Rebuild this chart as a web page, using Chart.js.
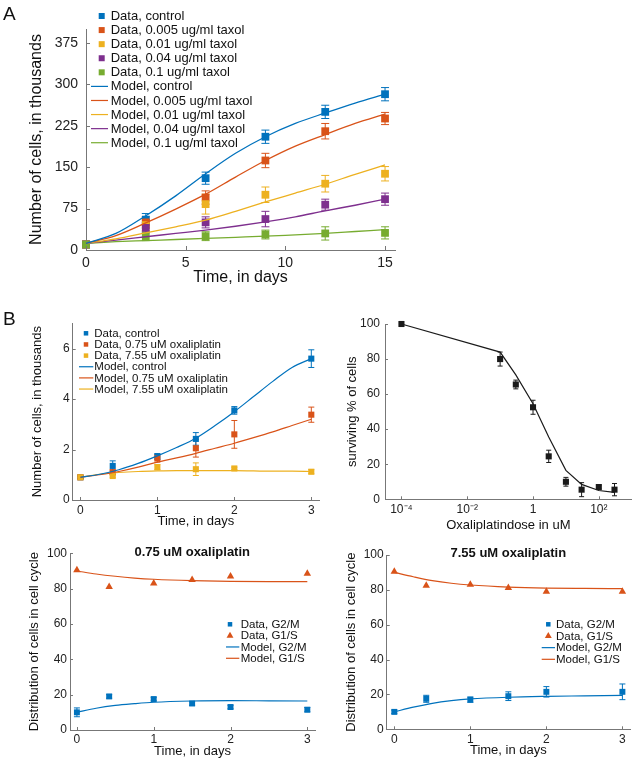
<!DOCTYPE html>
<html><head><meta charset="utf-8">
<script src="https://cdn.jsdelivr.net/npm/chart.js@4.4.1/dist/chart.umd.min.js"></script>
<style>
html,body{margin:0;padding:0;background:#fff;}
#wrap{position:relative;width:638px;height:763px;overflow:hidden;background:#fff;}
#wrap canvas{position:absolute;left:0;top:0;}
.lab{position:absolute;font-family:'Liberation Sans',Arial,Helvetica,sans-serif;font-size:19px;line-height:20px;color:#111;}
</style></head>
<body><div id="wrap">
<canvas id="cA" width="638" height="763"></canvas>
<canvas id="cB1" width="638" height="763"></canvas>
<canvas id="cB2" width="638" height="763"></canvas>
<canvas id="cB3" width="638" height="763"></canvas>
<canvas id="cB4" width="638" height="763"></canvas>
<div class="lab" style="left:3px;top:4px">A</div>
<div class="lab" style="left:3px;top:309px">B</div>
</div>
<script>
// ===== Panel A: taxol =====
const daysA = [0, 3, 6, 9, 12, 15];
const dataCtrlA = [10, 55, 130, 205, 250, 282];
const errCtrlA  = [3, 11, 11, 12, 12, 12];
const data005A  = [10, 50, 95, 162, 215, 238];
const err005A   = [3, 10, 12, 13, 14, 11];
const data001A  = [10, 45, 83, 100, 120, 138];
const err001A   = [3, 10, 18, 14, 15, 13];
const data004A  = [10, 40, 50, 56, 82, 92];
const err004A   = [3, 9, 10, 14, 10, 11];
const data01A   = [10, 25, 25, 28, 30, 31];
const err01A    = [3, 8, 8, 8, 12, 11];
const modelDaysA = [0, 1.5, 3, 4.5, 6, 7.5, 9, 10.5, 12, 13.5, 15];
const modelCtrlA = [12, 30, 62, 98, 138, 175, 205, 229, 248, 266, 282];
const model005A  = [12, 26, 49, 74, 101, 132, 162, 188, 209, 229, 246];
const model001A  = [12, 20, 31, 42, 54, 70, 87, 103, 119, 137, 154];
const model004A  = [12, 18, 24, 30, 36, 43, 51, 60, 71, 81, 92];
const model01A   = [12, 15, 17, 19, 21, 23, 25, 27.5, 30, 33.5, 37];
const xTicksA = [0, 5, 10, 15];
const yTicksA = [0, 75, 150, 225, 300, 375];

// ===== Panel B1: oxaliplatin growth =====
const daysB = [0, 0.42, 1, 1.5, 2, 3];
const dataCtrlB1 = [0.9, 1.35, 1.72, 2.42, 3.55, 5.6];
const errCtrlB1  = [0.05, 0.2, 0.12, 0.25, 0.15, 0.35];
const data075B1  = [0.9, 1.1, 1.65, 2.05, 2.6, 3.38];
const err075B1   = [0.05, 0.1, 0.15, 0.35, 0.55, 0.3];
const data755B1  = [0.9, 0.95, 1.3, 1.22, 1.25, 1.12];
const err755B1   = [0.05, 0.05, 0.1, 0.25, 0.05, 0.08];
const modelDaysB1 = [0, 0.25, 0.5, 0.75, 1, 1.25, 1.5, 1.75, 2, 2.25, 2.5, 2.75, 3];
const modelCtrlB1 = [0.9, 1.02, 1.2, 1.45, 1.75, 2.08, 2.45, 2.95, 3.5, 4.1, 4.7, 5.25, 5.6];
const model075B1  = [0.9, 1.0, 1.13, 1.3, 1.5, 1.67, 1.85, 2.05, 2.25, 2.47, 2.7, 2.95, 3.2];
const model755B1  = [0.9, 1.02, 1.09, 1.13, 1.15, 1.16, 1.16, 1.16, 1.16, 1.15, 1.14, 1.14, 1.13];
const xTicksB = [0, 1, 2, 3];
const yTicksB1 = [0, 2, 4, 6];

// ===== Panel B2: dose response =====
const doseB2 = [1e-4, 0.1, 0.3, 1, 3, 10, 30, 100, 300];
const survB2 = [100, 80, 65.5, 52.5, 24.5, 10, 5.5, 7, 5.5];
const survErrB2 = [0.5, 4, 2.5, 4, 3.5, 2.5, 4, 1, 3.5];
const modelDoseB2 = [1e-4, 0.1, 0.3, 1, 3, 10, 30, 100, 300];
const modelSurvB2 = [100, 84, 71, 54.5, 35.5, 16.5, 8.5, 5, 4];
const xTicksB2 = [1e-4, 1e-2, 1, 100];
const xTickLabelsB2 = ['10\u207B\u2074', '10\u207B\u00B2', '1', '10\u00B2'];
const yTicksPct = [0, 20, 40, 60, 80, 100];

// ===== Panel B3: 0.75 uM cell cycle =====
const g2mB3 = [10, 19, 17.5, 15, 13, 11.5];
const g2mErrB3 = [2.5, 1, 1, 1, 1, 1.2];
const g1sB3 = [90.5, 81, 83, 85, 87, 88.5];
const modelDaysCC = [0, 0.25, 0.5, 0.75, 1, 1.5, 2, 2.5, 3];
const modelG2mB3 = [10, 12.3, 13.9, 14.9, 15.7, 16.4, 16.6, 16.5, 16.4];
const modelG1sB3 = [90, 88.3, 87, 86, 85.3, 84.5, 84.1, 84, 84];

// ===== Panel B4: 7.55 uM cell cycle =====
const g2mB4 = [10, 17.5, 17, 19, 21.5, 21.5];
const g2mErrB4 = [1, 2, 1.5, 2.5, 3, 4.5];
const g1sB4 = [90.5, 82.5, 83, 81.2, 79, 79];
const modelG2mB4 = [10, 12.7, 14.9, 16.4, 17.4, 18.4, 18.9, 19.2, 19.5];
const modelG1sB4 = [90, 87.5, 85.3, 83.8, 82.8, 81.6, 81, 80.8, 80.7];

// ===== styling =====
const FONT = "'Liberation Sans', Arial, Helvetica, sans-serif";
Chart.defaults.font.family = FONT;
Chart.defaults.color = '#222';
const AX = '#777';
const C_BLUE = '#0072BD', C_ORANGE = '#D95319', C_YELLOW = '#EDB120', C_PURPLE = '#7E2F8E', C_GREEN = '#77AC30', C_BLACK = '#1a1a1a';

function pts(xs, ys) { return xs.map((x, i) => ({ x: x, y: ys[i] })); }

function modelDS(label, xs, ys, color, w, smooth) {
  return { label, data: pts(xs, ys), borderColor: color, backgroundColor: color, borderWidth: w,
    pointRadius: 0, fill: false, showLine: true, cubicInterpolationMode: smooth ? 'monotone' : 'default',
    tension: 0, order: 0, clip: false };
}
function dataDS(label, xs, ys, errs, color, style, r, cap) {
  return { label, data: pts(xs, ys), errors: errs, cap: cap, borderColor: color, backgroundColor: color,
    pointStyle: style, pointRadius: r, pointBorderWidth: 0, showLine: false, order: 1, clip: false };
}

function errPlugin() {
  return { id: 'errbars', beforeDatasetsDraw(chart) {
    const c = chart.ctx, xs = chart.scales.x, ys = chart.scales.y;
    c.save();
    chart.data.datasets.forEach(ds => {
      if (!ds.errors) return;
      c.strokeStyle = ds.borderColor; c.lineWidth = 1;
      ds.data.forEach((p, i) => {
        const e = ds.errors[i]; if (!e) return;
        const px = xs.getPixelForValue(p.x);
        const y1 = ys.getPixelForValue(p.y - e), y2 = ys.getPixelForValue(p.y + e);
        c.beginPath();
        c.moveTo(px, y1); c.lineTo(px, y2);
        c.moveTo(px - ds.cap, y1); c.lineTo(px + ds.cap, y1);
        c.moveTo(px - ds.cap, y2); c.lineTo(px + ds.cap, y2);
        c.stroke();
      });
    });
    c.restore();
  } };
}

function tickPlugin(len) {
  return { id: 'inticks', afterDraw(chart) {
    const c = chart.ctx, xs = chart.scales.x, ys = chart.scales.y, a = chart.chartArea;
    c.save(); c.strokeStyle = AX; c.lineWidth = 1; c.beginPath();
    xs.ticks.forEach(t => { const p = Math.round(xs.getPixelForValue(t.value)) + 0.5; c.moveTo(p, a.bottom); c.lineTo(p, a.bottom - len); });
    ys.ticks.forEach(t => { const p = Math.round(ys.getPixelForValue(t.value)) + 0.5; c.moveTo(a.left, p); c.lineTo(a.left + len, p); });
    c.stroke(); c.restore();
  } };
}

function legendPlugin(L) {
  return { id: 'plegend', afterDraw(chart) {
    const c = chart.ctx;
    c.save();
    c.font = L.size + 'px ' + FONT; c.textBaseline = 'middle'; c.textAlign = 'left';
    L.items.forEach((it, i) => {
      const y = L.y0 + i * L.dy;
      c.fillStyle = it.color; c.strokeStyle = it.color;
      if (it.kind === 'rect') {
        c.fillRect(L.mx - L.ms / 2, y - L.ms / 2, L.ms, L.ms);
      } else if (it.kind === 'tri') {
        const r = L.ts;
        c.beginPath();
        c.moveTo(L.mx, y - r); c.lineTo(L.mx + r * 0.866, y + r * 0.5); c.lineTo(L.mx - r * 0.866, y + r * 0.5);
        c.closePath(); c.fill();
      } else {
        c.lineWidth = 1.2; c.beginPath(); c.moveTo(L.lx1, y); c.lineTo(L.lx2, y); c.stroke();
      }
      c.fillStyle = '#111';
      c.fillText(it.text, L.tx, y + 0.5);
    });
    c.restore();
  } };
}

function titlePlugin(T) {
  return { id: 'ptitle', afterDraw(chart) {
    const c = chart.ctx; c.save();
    c.font = 'bold ' + T.size + 'px ' + FONT; c.fillStyle = '#111';
    c.textAlign = 'center'; c.textBaseline = 'middle';
    c.fillText(T.text, T.x, T.y); c.restore();
  } };
}

function makeChart(id, P, datasets, plugins) {
  const W = P.yTitleSize * 1.2 / 2 + (P.left - P.yTitleX);
  const H = P.xTitleSize * 1.2 / 2 + (P.xTitleY - P.bottom);
  return new Chart(document.getElementById(id), {
    type: 'line',
    data: { datasets },
    options: {
      responsive: false, animation: false, devicePixelRatio: 1, events: [],
      layout: { padding: { left: P.left - W, right: 638 - P.right, top: P.top, bottom: 763 - P.bottom - H } },
      plugins: { legend: { display: false }, tooltip: { enabled: false }, title: { display: false } },
      scales: {
        x: {
          type: P.xType || 'linear', min: P.xmin, max: P.xmax,
          afterFit(s) { s.height = H; },
          afterBuildTicks(s) { s.ticks = P.xTicks.map(v => ({ value: v })); },
          ticks: { font: { size: P.tickSize }, padding: P.xPad, color: '#222', maxRotation: 0, autoSkip: false,
            callback: P.xLabels ? ((v, i) => P.xLabels[i]) : (v => String(v)) },
          grid: { display: true, drawOnChartArea: false, drawTicks: false, color: 'rgba(0,0,0,0)' },
          border: { display: true, color: AX, width: 1 },
          title: { display: true, text: P.xTitle, font: { size: P.xTitleSize }, padding: 0, color: '#111' }
        },
        y: {
          type: 'linear', min: P.ymin, max: P.ymax,
          afterFit(s) { s.width = W; },
          afterBuildTicks(s) { s.ticks = P.yTicks.map(v => ({ value: v })); },
          ticks: { font: { size: P.tickSize }, padding: P.yPad, color: '#222', autoSkip: false, callback: v => String(v) },
          grid: { display: true, drawOnChartArea: false, drawTicks: false, color: 'rgba(0,0,0,0)' },
          border: { display: true, color: AX, width: 1 },
          title: { display: true, text: P.yTitle, font: { size: P.yTitleSize }, padding: 0, color: '#111' }
        }
      }
    },
    plugins: [errPlugin(), tickPlugin(P.tickLen)].concat(plugins || [])
  });
}

// ---------- Panel A ----------
makeChart('cA', {
  left: 86, right: 395, top: 29, bottom: 250, xmin: 0, xmax: 15.5, ymin: 0, ymax: 400,
  xTicks: xTicksA, yTicks: yTicksA, tickSize: 14, xPad: 5, yPad: 8, tickLen: 4,
  xTitle: 'Time, in days', xTitleSize: 16, xTitleY: 278,
  yTitle: 'Number of cells, in thousands', yTitleSize: 16, yTitleX: 37
}, [
  modelDS('Model, control', modelDaysA, modelCtrlA, C_BLUE, 1.3, true),
  modelDS('Model, 0.005 ug/ml taxol', modelDaysA, model005A, C_ORANGE, 1.3, true),
  modelDS('Model, 0.01 ug/ml taxol', modelDaysA, model001A, C_YELLOW, 1.3, true),
  modelDS('Model, 0.04 ug/ml taxol', modelDaysA, model004A, C_PURPLE, 1.3, true),
  modelDS('Model, 0.1 ug/ml taxol', modelDaysA, model01A, C_GREEN, 1.3, true),
  dataDS('Data, 0.1 ug/ml taxol', daysA, data01A, err01A, C_GREEN, 'rect', 5.5, 4),
  dataDS('Data, 0.04 ug/ml taxol', daysA, data004A, err004A, C_PURPLE, 'rect', 5.5, 4),
  dataDS('Data, 0.01 ug/ml taxol', daysA, data001A, err001A, C_YELLOW, 'rect', 5.5, 4),
  dataDS('Data, 0.005 ug/ml taxol', daysA, data005A, err005A, C_ORANGE, 'rect', 5.5, 4),
  dataDS('Data, control', daysA, dataCtrlA, errCtrlA, C_BLUE, 'rect', 5.5, 4)
], [legendPlugin({
  size: 13, mx: 101.7, ms: 6, lx1: 91, lx2: 108, tx: 110.7, y0: 16, dy: 14.08,
  items: [
    { kind: 'rect', color: C_BLUE, text: 'Data, control' },
    { kind: 'rect', color: C_ORANGE, text: 'Data, 0.005 ug/ml taxol' },
    { kind: 'rect', color: C_YELLOW, text: 'Data, 0.01 ug/ml taxol' },
    { kind: 'rect', color: C_PURPLE, text: 'Data, 0.04 ug/ml taxol' },
    { kind: 'rect', color: C_GREEN, text: 'Data, 0.1 ug/ml taxol' },
    { kind: 'line', color: C_BLUE, text: 'Model, control' },
    { kind: 'line', color: C_ORANGE, text: 'Model, 0.005 ug/ml taxol' },
    { kind: 'line', color: C_YELLOW, text: 'Model, 0.01 ug/ml taxol' },
    { kind: 'line', color: C_PURPLE, text: 'Model, 0.04 ug/ml taxol' },
    { kind: 'line', color: C_GREEN, text: 'Model, 0.1 ug/ml taxol' }
  ]
})]);

// ---------- Panel B1 ----------
makeChart('cB1', {
  left: 72.7, right: 319, top: 323.3, bottom: 500, xmin: -0.1, xmax: 3.1, ymin: 0, ymax: 7,
  xTicks: xTicksB, yTicks: yTicksB1, tickSize: 12, xPad: 3, yPad: 3, tickLen: 3,
  xTitle: 'Time, in days', xTitleSize: 13, xTitleY: 521.7,
  yTitle: 'Number of cells, in thousands', yTitleSize: 13, yTitleX: 37.7
}, [
  modelDS('Model, control', modelDaysB1, modelCtrlB1, C_BLUE, 1.2, true),
  modelDS('Model, 0.75 uM oxaliplatin', modelDaysB1, model075B1, C_ORANGE, 1.2, true),
  modelDS('Model, 7.55 uM oxaliplatin', modelDaysB1, model755B1, C_YELLOW, 1.2, true),
  dataDS('Data, 7.55 uM oxaliplatin', daysB, data755B1, err755B1, C_YELLOW, 'rect', 4.3, 3),
  dataDS('Data, 0.75 uM oxaliplatin', daysB, data075B1, err075B1, C_ORANGE, 'rect', 4.3, 3),
  dataDS('Data, control', daysB, dataCtrlB1, errCtrlB1, C_BLUE, 'rect', 4.3, 3)
], [legendPlugin({
  size: 11.5, mx: 86, ms: 4.5, lx1: 79, lx2: 93.3, tx: 94.3, y0: 333.3, dy: 11.15,
  items: [
    { kind: 'rect', color: C_BLUE, text: 'Data, control' },
    { kind: 'rect', color: C_ORANGE, text: 'Data, 0.75 uM oxaliplatin' },
    { kind: 'rect', color: C_YELLOW, text: 'Data, 7.55 uM oxaliplatin' },
    { kind: 'line', color: C_BLUE, text: 'Model, control' },
    { kind: 'line', color: C_ORANGE, text: 'Model, 0.75 uM oxaliplatin' },
    { kind: 'line', color: C_YELLOW, text: 'Model, 7.55 uM oxaliplatin' }
  ]
})]);

// ---------- Panel B2 ----------
makeChart('cB2', {
  left: 385, right: 631.7, top: 324, bottom: 499.3, xType: 'logarithmic',
  xmin: Math.pow(10, -4.5), xmax: 1000, ymin: 0, ymax: 100,
  xTicks: xTicksB2, xLabels: xTickLabelsB2, yTicks: yTicksPct, tickSize: 12, xPad: 3, yPad: 5, tickLen: 3,
  xTitle: 'Oxaliplatindose in uM', xTitleSize: 13, xTitleY: 525,
  yTitle: 'surviving % of cells', yTitleSize: 13, yTitleX: 352.5
}, [
  modelDS('Model', modelDoseB2, modelSurvB2, C_BLACK, 1.2, false),
  dataDS('Data', doseB2, survB2, survErrB2, C_BLACK, 'rect', 4.3, 2.5)
]);

// ---------- Panel B3 ----------
const ccLegendItems = [
  { kind: 'rect', color: C_BLUE, text: 'Data, G2/M' },
  { kind: 'tri', color: C_ORANGE, text: 'Data, G1/S' },
  { kind: 'line', color: C_BLUE, text: 'Model, G2/M' },
  { kind: 'line', color: C_ORANGE, text: 'Model, G1/S' }
];
makeChart('cB3', {
  left: 70, right: 315, top: 553.3, bottom: 730, xmin: -0.09, xmax: 3.1, ymin: 0, ymax: 100,
  xTicks: xTicksB, yTicks: yTicksPct, tickSize: 12, xPad: 2, yPad: 3, tickLen: 3,
  xTitle: 'Time, in days', xTitleSize: 13, xTitleY: 751.7,
  yTitle: 'Distribution of cells in cell cycle', yTitleSize: 13, yTitleX: 34.3
}, [
  modelDS('Model, G2/M', modelDaysCC, modelG2mB3, C_BLUE, 1.2, true),
  modelDS('Model, G1/S', modelDaysCC, modelG1sB3, C_ORANGE, 1.2, true),
  dataDS('Data, G1/S', daysB, g1sB3, null, C_ORANGE, 'triangle', 4.3, 3),
  dataDS('Data, G2/M', daysB, g2mB3, g2mErrB3, C_BLUE, 'rect', 4.2, 3)
], [
  legendPlugin({ size: 11.5, mx: 230, ms: 4.5, ts: 4, lx1: 226, lx2: 239.3, tx: 240.7, y0: 624.3, dy: 11.33, items: ccLegendItems }),
  titlePlugin({ text: '0.75 uM oxaliplatin', size: 13, x: 192.2, y: 552.7 })
]);

// ---------- Panel B4 ----------
makeChart('cB4', {
  left: 386.7, right: 630, top: 555, bottom: 729.3, xmin: -0.1, xmax: 3.1, ymin: 0, ymax: 100,
  xTicks: xTicksB, yTicks: yTicksPct, tickSize: 12, xPad: 3, yPad: 3, tickLen: 3,
  xTitle: 'Time, in days', xTitleSize: 13, xTitleY: 750,
  yTitle: 'Distribution of cells in cell cycle', yTitleSize: 13, yTitleX: 351.7
}, [
  modelDS('Model, G2/M', modelDaysCC, modelG2mB4, C_BLUE, 1.2, true),
  modelDS('Model, G1/S', modelDaysCC, modelG1sB4, C_ORANGE, 1.2, true),
  dataDS('Data, G1/S', daysB, g1sB4, null, C_ORANGE, 'triangle', 4.3, 3),
  dataDS('Data, G2/M', daysB, g2mB4, g2mErrB4, C_BLUE, 'rect', 4.2, 3)
], [
  legendPlugin({ size: 11.5, mx: 548.3, ms: 4.5, ts: 4, lx1: 541.7, lx2: 555, tx: 556, y0: 624.3, dy: 11.67, items: ccLegendItems }),
  titlePlugin({ text: '7.55 uM oxaliplatin', size: 13, x: 508.3, y: 553.3 })
]);
</script>
</body></html>
